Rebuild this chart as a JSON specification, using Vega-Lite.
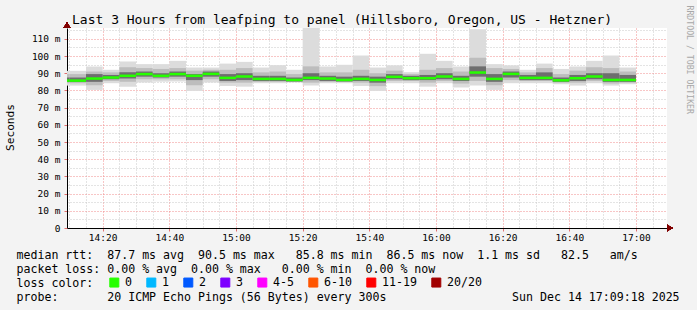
{
"$schema": "https://vega.github.io/schema/vega-lite/v6.json",
"width": 600,
"height": 200,
"autosize": {"type": "none"},
"padding": {"left": 67, "top": 28, "right": 30, "bottom": 82},
"background": "#f3f3f3",
"config": {
"view": {"fill": "#ffffff", "stroke": null},
"font": "DejaVu Sans Mono",
"axisX": {"labelFont": "DejaVu Sans Mono", "labelFontSize": 9.5, "labelColor": "#000000", "labelPadding": 1, "labelFlush": false, "labelOverlap": false, "labelBaseline": "top", "grid": true, "gridDash": [1, 2], "gridWidth": 1, "gridOpacity": 1, "ticks": true, "tickSize": 3, "domain": true, "domainColor": "#000000", "domainWidth": 1, "titleX": -51, "titleY": 30.3, "titleAlign": "left", "titleAnchor": "start", "titleBaseline": "alphabetic", "titleFont": "DejaVu Sans Mono", "titleFontSize": 11.6, "titleFontWeight": "normal", "titleColor": "#000000", "titleLineHeight": 14},
"axisY": {"labelFont": "DejaVu Sans Mono", "labelFontSize": 9.5, "labelColor": "#000000", "labelPadding": 4, "labelFlush": false, "labelOverlap": false, "labelBaseline": "middle", "gridDash": [1, 2], "gridWidth": 1, "gridOpacity": 1, "tickSize": 3, "domainColor": "#000000", "domainWidth": 1, "titleFontWeight": "normal", "titleColor": "#000000"}
},
"title": {"text": "Last 3 Hours from leafping to panel (Hillsboro, Oregon, US - Hetzner)", "anchor": "start", "frame": "group", "dx": 5, "offset": -32, "baseline": "alphabetic", "font": "DejaVu Sans Mono", "fontSize": 13, "fontWeight": "normal", "color": "#000000"},
"data": {"values": [
{"t": "2025-12-14T14:05:00Z", "t2": "2025-12-14T14:10:00Z", "max": 91.4, "min": 82.8, "mhi": 89.5, "mlo": 84.2, "chi": 87.5, "clo": 84.9, "median": 85.7, "loss": "0"},
{"t": "2025-12-14T14:10:00Z", "t2": "2025-12-14T14:15:00Z", "max": 91.4, "min": 82.8, "mhi": 89.5, "mlo": 84.2, "chi": 87.5, "clo": 84.9, "median": 85.7, "loss": "0"},
{"t": "2025-12-14T14:15:00Z", "t2": "2025-12-14T14:20:00Z", "max": 93.9, "min": 80.3, "mhi": 91.0, "mlo": 83.0, "chi": 89.5, "clo": 85.0, "median": 86.9, "loss": "0"},
{"t": "2025-12-14T14:20:00Z", "t2": "2025-12-14T14:25:00Z", "max": 92.0, "min": 84.2, "mhi": 90.5, "mlo": 85.5, "chi": 89.0, "clo": 86.5, "median": 87.5, "loss": "0"},
{"t": "2025-12-14T14:25:00Z", "t2": "2025-12-14T14:30:00Z", "max": 96.8, "min": 82.2, "mhi": 93.5, "mlo": 85.0, "chi": 90.5, "clo": 87.0, "median": 88.5, "loss": "0"},
{"t": "2025-12-14T14:30:00Z", "t2": "2025-12-14T14:35:00Z", "max": 95.3, "min": 84.6, "mhi": 93.0, "mlo": 86.5, "chi": 91.0, "clo": 88.0, "median": 89.5, "loss": "0"},
{"t": "2025-12-14T14:35:00Z", "t2": "2025-12-14T14:40:00Z", "max": 95.3, "min": 85.1, "mhi": 92.5, "mlo": 86.5, "chi": 90.0, "clo": 87.5, "median": 88.5, "loss": "0"},
{"t": "2025-12-14T14:40:00Z", "t2": "2025-12-14T14:45:00Z", "max": 97.2, "min": 85.2, "mhi": 93.0, "mlo": 86.5, "chi": 91.0, "clo": 88.0, "median": 89.5, "loss": "0"},
{"t": "2025-12-14T14:45:00Z", "t2": "2025-12-14T14:50:00Z", "max": 93.3, "min": 79.7, "mhi": 91.5, "mlo": 83.0, "chi": 89.5, "clo": 86.0, "median": 88.5, "loss": "0"},
{"t": "2025-12-14T14:50:00Z", "t2": "2025-12-14T14:55:00Z", "max": 93.3, "min": 84.6, "mhi": 92.0, "mlo": 86.5, "chi": 91.0, "clo": 88.0, "median": 89.6, "loss": "0"},
{"t": "2025-12-14T14:55:00Z", "t2": "2025-12-14T15:00:00Z", "max": 95.6, "min": 82.6, "mhi": 92.0, "mlo": 84.5, "chi": 89.5, "clo": 85.5, "median": 87.3, "loss": "0"},
{"t": "2025-12-14T15:00:00Z", "t2": "2025-12-14T15:05:00Z", "max": 96.6, "min": 82.2, "mhi": 93.0, "mlo": 84.5, "chi": 90.0, "clo": 86.0, "median": 88.1, "loss": "0"},
{"t": "2025-12-14T15:05:00Z", "t2": "2025-12-14T15:10:00Z", "max": 93.3, "min": 84.2, "mhi": 90.5, "mlo": 85.0, "chi": 88.5, "clo": 85.5, "median": 86.7, "loss": "0"},
{"t": "2025-12-14T15:10:00Z", "t2": "2025-12-14T15:15:00Z", "max": 94.7, "min": 84.2, "mhi": 91.0, "mlo": 85.0, "chi": 88.5, "clo": 85.5, "median": 86.7, "loss": "0"},
{"t": "2025-12-14T15:15:00Z", "t2": "2025-12-14T15:20:00Z", "max": 92.0, "min": 84.6, "mhi": 89.5, "mlo": 85.0, "chi": 87.5, "clo": 85.2, "median": 86.1, "loss": "0"},
{"t": "2025-12-14T15:20:00Z", "t2": "2025-12-14T15:25:00Z", "max": 116.8, "min": 82.8, "mhi": 94.0, "mlo": 84.5, "chi": 90.0, "clo": 86.0, "median": 87.3, "loss": "0"},
{"t": "2025-12-14T15:25:00Z", "t2": "2025-12-14T15:30:00Z", "max": 93.9, "min": 84.2, "mhi": 90.5, "mlo": 85.0, "chi": 88.5, "clo": 85.5, "median": 86.9, "loss": "0"},
{"t": "2025-12-14T15:30:00Z", "t2": "2025-12-14T15:35:00Z", "max": 94.9, "min": 84.2, "mhi": 90.5, "mlo": 85.0, "chi": 88.0, "clo": 85.2, "median": 86.1, "loss": "0"},
{"t": "2025-12-14T15:35:00Z", "t2": "2025-12-14T15:40:00Z", "max": 100.3, "min": 82.6, "mhi": 92.0, "mlo": 84.5, "chi": 88.5, "clo": 85.5, "median": 86.7, "loss": "0"},
{"t": "2025-12-14T15:40:00Z", "t2": "2025-12-14T15:45:00Z", "max": 93.3, "min": 79.7, "mhi": 90.0, "mlo": 82.5, "chi": 88.0, "clo": 84.5, "median": 86.1, "loss": "0"},
{"t": "2025-12-14T15:45:00Z", "t2": "2025-12-14T15:50:00Z", "max": 94.6, "min": 84.2, "mhi": 91.5, "mlo": 85.5, "chi": 89.5, "clo": 86.5, "median": 87.9, "loss": "0"},
{"t": "2025-12-14T15:50:00Z", "t2": "2025-12-14T15:55:00Z", "max": 90.6, "min": 84.2, "mhi": 89.5, "mlo": 85.5, "chi": 88.5, "clo": 86.0, "median": 87.1, "loss": "0"},
{"t": "2025-12-14T15:55:00Z", "t2": "2025-12-14T16:00:00Z", "max": 101.3, "min": 82.2, "mhi": 92.0, "mlo": 84.5, "chi": 89.0, "clo": 86.0, "median": 87.1, "loss": "0"},
{"t": "2025-12-14T16:00:00Z", "t2": "2025-12-14T16:05:00Z", "max": 97.2, "min": 84.2, "mhi": 93.0, "mlo": 85.5, "chi": 90.0, "clo": 86.5, "median": 88.1, "loss": "0"},
{"t": "2025-12-14T16:05:00Z", "t2": "2025-12-14T16:10:00Z", "max": 93.9, "min": 81.7, "mhi": 91.0, "mlo": 84.0, "chi": 88.5, "clo": 85.5, "median": 86.7, "loss": "0"},
{"t": "2025-12-14T16:10:00Z", "t2": "2025-12-14T16:15:00Z", "max": 115.6, "min": 82.8, "mhi": 99.0, "mlo": 85.5, "chi": 94.0, "clo": 88.0, "median": 90.4, "loss": "0"},
{"t": "2025-12-14T16:15:00Z", "t2": "2025-12-14T16:20:00Z", "max": 95.3, "min": 80.3, "mhi": 93.0, "mlo": 83.0, "chi": 89.5, "clo": 85.0, "median": 86.7, "loss": "0"},
{"t": "2025-12-14T16:20:00Z", "t2": "2025-12-14T16:25:00Z", "max": 94.6, "min": 84.2, "mhi": 92.5, "mlo": 86.0, "chi": 91.0, "clo": 87.5, "median": 89.6, "loss": "0"},
{"t": "2025-12-14T16:25:00Z", "t2": "2025-12-14T16:30:00Z", "max": 92.0, "min": 84.2, "mhi": 90.5, "mlo": 85.5, "chi": 89.0, "clo": 86.0, "median": 87.3, "loss": "0"},
{"t": "2025-12-14T16:30:00Z", "t2": "2025-12-14T16:35:00Z", "max": 95.6, "min": 84.2, "mhi": 93.0, "mlo": 85.5, "chi": 90.5, "clo": 86.0, "median": 87.3, "loss": "0"},
{"t": "2025-12-14T16:35:00Z", "t2": "2025-12-14T16:40:00Z", "max": 92.5, "min": 83.6, "mhi": 89.5, "mlo": 84.5, "chi": 87.5, "clo": 85.0, "median": 85.9, "loss": "0"},
{"t": "2025-12-14T16:40:00Z", "t2": "2025-12-14T16:45:00Z", "max": 93.9, "min": 82.8, "mhi": 91.5, "mlo": 84.5, "chi": 89.0, "clo": 85.5, "median": 87.1, "loss": "0"},
{"t": "2025-12-14T16:45:00Z", "t2": "2025-12-14T16:50:00Z", "max": 97.2, "min": 84.2, "mhi": 93.5, "mlo": 85.5, "chi": 90.0, "clo": 86.5, "median": 88.1, "loss": "0"},
{"t": "2025-12-14T16:50:00Z", "t2": "2025-12-14T16:55:00Z", "max": 100.3, "min": 82.8, "mhi": 93.0, "mlo": 84.0, "chi": 90.0, "clo": 85.0, "median": 86.1, "loss": "0"},
{"t": "2025-12-14T16:55:00Z", "t2": "2025-12-14T17:00:00Z", "max": 93.3, "min": 83.6, "mhi": 91.0, "mlo": 84.5, "chi": 89.0, "clo": 85.0, "median": 86.1, "loss": "0"}
]},
"encoding": {
"x": {"field": "t", "type": "temporal",
"scale": {"type": "utc", "nice": false, "domain": [{"year": 2025, "month": 12, "date": 14, "hours": 14, "minutes": 9, "seconds": 18, "utc": true}, {"year": 2025, "month": 12, "date": 14, "hours": 17, "minutes": 9, "seconds": 18, "utc": true}]},
"axis": {
"tickCount": 36,
"labelExpr": "utcminutes(datum.value) % 20 === 0 ? utcFormat(datum.value, '%H:%M') : ''",
"gridColor": {"condition": {"test": "utcminutes(datum.value) % 20 === 0", "value": "#f08c8c"}, "value": "#c8c8c8"},
"tickColor": {"condition": {"test": "utcminutes(datum.value) % 20 === 0", "value": "#e07070"}, "value": "transparent"},
"title": ["median\u00a0rtt:\u00a0\u00a087.7\u00a0ms\u00a0avg\u00a0\u00a090.5\u00a0ms\u00a0max\u00a0\u00a0\u00a085.8\u00a0ms\u00a0min\u00a0\u00a086.5\u00a0ms\u00a0now\u00a0\u00a01.1\u00a0ms\u00a0sd\u00a0\u00a0\u00a082.5\u00a0\u00a0\u00a0am/s",
"packet\u00a0loss:\u00a00.00\u00a0%\u00a0avg\u00a0\u00a00.00\u00a0%\u00a0max\u00a0\u00a0\u00a00.00\u00a0%\u00a0min\u00a0\u00a00.00\u00a0%\u00a0now",
"loss\u00a0color:",
"probe:\u00a0\u00a0\u00a0\u00a0\u00a0\u00a0\u00a020\u00a0ICMP\u00a0Echo\u00a0Pings\u00a0(56\u00a0Bytes)\u00a0every\u00a0300s\u00a0\u00a0\u00a0\u00a0\u00a0\u00a0\u00a0\u00a0\u00a0\u00a0\u00a0\u00a0\u00a0\u00a0\u00a0\u00a0\u00a0\u00a0Sun\u00a0Dec\u00a014\u00a017:09:18\u00a02025"]
}},
"x2": {"field": "t2"}
},
"resolve": {"axis": {"y": "independent"}},
"layer": [
{
"mark": {"type": "rect", "color": "#dcdcdc", "clip": true, "strokeWidth": 0},
"encoding": {
"y": {"field": "min", "type": "quantitative",
"scale": {"domain": [0, 116.3], "nice": false, "zero": false},
"axis": {"orient": "left", "values": [0, 5, 10, 15, 20, 25, 30, 35, 40, 45, 50, 55, 60, 65, 70, 75, 80, 85, 90, 95, 100, 105, 110, 115], "labelExpr": "datum.value % 10 === 0 ? (datum.value === 0 ? '0' : datum.value + ' m') : ''", "grid": true, "gridColor": {"condition": {"test": "datum.value % 10 === 0", "value": "#f08c8c"}, "value": "#c8c8c8"}, "ticks": true, "tickColor": {"condition": {"test": "datum.value % 10 === 0", "value": "#e07070"}, "value": "transparent"}, "domain": true, "title": "Seconds", "titleX": -57, "titleY": 99, "titleAngle": 270, "titleAlign": "center", "titleBaseline": "middle", "titleFont": "DejaVu Sans Mono", "titleFontSize": 11.2}},
"y2": {"field": "max"}
}
},
{
"layer": [
{
"mark": {"type": "rect", "color": "#bdbdbd", "clip": true, "strokeWidth": 0},
"encoding": {
"y": {"field": "mlo", "type": "quantitative", "scale": {"domain": [0, 116.3], "nice": false, "zero": false},
"axis": {"orient": "right", "labels": false, "ticks": false, "domain": false, "grid": false, "title": "RRDTOOL / TOBI OETIKER", "titleAngle": 90, "titleX": 21, "titleY": -23, "titleAlign": "left", "titleBaseline": "middle", "titleFont": "DejaVu Sans Mono", "titleFontSize": 8.2, "titleColor": "#a8a8a8"}},
"y2": {"field": "mhi"}
}
},
{
"mark": {"type": "rect", "color": "#6e6e6e", "clip": true, "strokeWidth": 0},
"encoding": {
"y": {"field": "clo", "type": "quantitative", "scale": {"domain": [0, 116.3], "nice": false, "zero": false},
"axis": {"orient": "right", "labels": false, "ticks": false, "domain": false, "grid": false, "title": "RRDTOOL / TOBI OETIKER", "titleAngle": 90, "titleX": 21, "titleY": -23, "titleAlign": "left", "titleBaseline": "middle", "titleFont": "DejaVu Sans Mono", "titleFontSize": 8.2, "titleColor": "#a8a8a8"}},
"y2": {"field": "chi"}
}
},
{
"mark": {"type": "rule", "strokeWidth": 2.5, "strokeCap": "butt", "clip": true},
"encoding": {
"y": {"field": "median", "type": "quantitative", "scale": {"domain": [0, 116.3], "nice": false, "zero": false},
"axis": {"orient": "right", "labels": false, "ticks": false, "domain": false, "grid": false, "title": "RRDTOOL / TOBI OETIKER", "titleAngle": 90, "titleX": 21, "titleY": -23, "titleAlign": "left", "titleBaseline": "middle", "titleFont": "DejaVu Sans Mono", "titleFontSize": 8.2, "titleColor": "#a8a8a8"}},
"color": {"field": "loss", "type": "nominal",
"scale": {"domain": ["0", "1", "2", "3", "4-5", "6-10", "11-19", "20/20"], "range": ["#26ff00", "#00b8ff", "#0059ff", "#7e00ff", "#ff00ff", "#ff5500", "#ff0000", "#a10000"]},
"legend": {"orient": "none", "legendX": 41.5, "legendY": 248.4, "direction": "horizontal", "columns": 8, "title": null, "padding": 0,
"symbolType": "square", "symbolSize": 81, "labelFont": "DejaVu Sans Mono", "labelFontSize": 11.6, "labelColor": "#000000", "labelOffset": 5, "columnPadding": 12, "labelLimit": 200,
"encode": {"symbols": {"update": {"fill": {"scale": "color", "field": "value"}, "stroke": {"value": "#000000"}, "strokeWidth": {"value": 1}, "opacity": {"value": 1}, "fillOpacity": {"value": 1}}}}}
}
}
},
{
"mark": {"type": "point", "shape": "triangle-up", "filled": true, "size": 45, "color": "#800000", "opacity": 1},
"encoding": {
"y": {"datum": 118.0, "type": "quantitative", "scale": {"domain": [0, 116.3], "nice": false, "zero": false},
"axis": {"orient": "right", "labels": false, "ticks": false, "domain": false, "grid": false, "title": "RRDTOOL / TOBI OETIKER", "titleAngle": 90, "titleX": 21, "titleY": -23, "titleAlign": "left", "titleBaseline": "middle", "titleFont": "DejaVu Sans Mono", "titleFontSize": 8.2, "titleColor": "#a8a8a8"}},
"x2": null,
"x": {"datum": {"year": 2025, "month": 12, "date": 14, "hours": 14, "minutes": 9, "seconds": 18, "utc": true}, "type": "temporal",
"scale": {"type": "utc", "nice": false, "domain": [{"year": 2025, "month": 12, "date": 14, "hours": 14, "minutes": 9, "seconds": 18, "utc": true}, {"year": 2025, "month": 12, "date": 14, "hours": 17, "minutes": 9, "seconds": 18, "utc": true}]},
"axis": {
"tickCount": 36,
"labelExpr": "utcminutes(datum.value) % 20 === 0 ? utcFormat(datum.value, '%H:%M') : ''",
"gridColor": {"condition": {"test": "utcminutes(datum.value) % 20 === 0", "value": "#f08c8c"}, "value": "#c8c8c8"},
"tickColor": {"condition": {"test": "utcminutes(datum.value) % 20 === 0", "value": "#e07070"}, "value": "transparent"},
"title": ["median\u00a0rtt:\u00a0\u00a087.7\u00a0ms\u00a0avg\u00a0\u00a090.5\u00a0ms\u00a0max\u00a0\u00a0\u00a085.8\u00a0ms\u00a0min\u00a0\u00a086.5\u00a0ms\u00a0now\u00a0\u00a01.1\u00a0ms\u00a0sd\u00a0\u00a0\u00a082.5\u00a0\u00a0\u00a0am/s",
"packet\u00a0loss:\u00a00.00\u00a0%\u00a0avg\u00a0\u00a00.00\u00a0%\u00a0max\u00a0\u00a0\u00a00.00\u00a0%\u00a0min\u00a0\u00a00.00\u00a0%\u00a0now",
"loss\u00a0color:",
"probe:\u00a0\u00a0\u00a0\u00a0\u00a0\u00a0\u00a020\u00a0ICMP\u00a0Echo\u00a0Pings\u00a0(56\u00a0Bytes)\u00a0every\u00a0300s\u00a0\u00a0\u00a0\u00a0\u00a0\u00a0\u00a0\u00a0\u00a0\u00a0\u00a0\u00a0\u00a0\u00a0\u00a0\u00a0\u00a0\u00a0Sun\u00a0Dec\u00a014\u00a017:09:18\u00a02025"]
}}
}
},
{
"mark": {"type": "point", "shape": "triangle-right", "filled": true, "size": 45, "color": "#800000", "opacity": 1},
"encoding": {
"y": {"datum": 0, "type": "quantitative", "scale": {"domain": [0, 116.3], "nice": false, "zero": false},
"axis": {"orient": "right", "labels": false, "ticks": false, "domain": false, "grid": false, "title": "RRDTOOL / TOBI OETIKER", "titleAngle": 90, "titleX": 21, "titleY": -23, "titleAlign": "left", "titleBaseline": "middle", "titleFont": "DejaVu Sans Mono", "titleFontSize": 8.2, "titleColor": "#a8a8a8"}},
"x2": null,
"x": {"datum": {"year": 2025, "month": 12, "date": 14, "hours": 17, "minutes": 10, "seconds": 10, "utc": true}, "type": "temporal",
"scale": {"type": "utc", "nice": false, "domain": [{"year": 2025, "month": 12, "date": 14, "hours": 14, "minutes": 9, "seconds": 18, "utc": true}, {"year": 2025, "month": 12, "date": 14, "hours": 17, "minutes": 9, "seconds": 18, "utc": true}]},
"axis": {
"tickCount": 36,
"labelExpr": "utcminutes(datum.value) % 20 === 0 ? utcFormat(datum.value, '%H:%M') : ''",
"gridColor": {"condition": {"test": "utcminutes(datum.value) % 20 === 0", "value": "#f08c8c"}, "value": "#c8c8c8"},
"tickColor": {"condition": {"test": "utcminutes(datum.value) % 20 === 0", "value": "#e07070"}, "value": "transparent"},
"title": ["median\u00a0rtt:\u00a0\u00a087.7\u00a0ms\u00a0avg\u00a0\u00a090.5\u00a0ms\u00a0max\u00a0\u00a0\u00a085.8\u00a0ms\u00a0min\u00a0\u00a086.5\u00a0ms\u00a0now\u00a0\u00a01.1\u00a0ms\u00a0sd\u00a0\u00a0\u00a082.5\u00a0\u00a0\u00a0am/s",
"packet\u00a0loss:\u00a00.00\u00a0%\u00a0avg\u00a0\u00a00.00\u00a0%\u00a0max\u00a0\u00a0\u00a00.00\u00a0%\u00a0min\u00a0\u00a00.00\u00a0%\u00a0now",
"loss\u00a0color:",
"probe:\u00a0\u00a0\u00a0\u00a0\u00a0\u00a0\u00a020\u00a0ICMP\u00a0Echo\u00a0Pings\u00a0(56\u00a0Bytes)\u00a0every\u00a0300s\u00a0\u00a0\u00a0\u00a0\u00a0\u00a0\u00a0\u00a0\u00a0\u00a0\u00a0\u00a0\u00a0\u00a0\u00a0\u00a0\u00a0\u00a0Sun\u00a0Dec\u00a014\u00a017:09:18\u00a02025"]
}}
}
}
]
}
]
}
